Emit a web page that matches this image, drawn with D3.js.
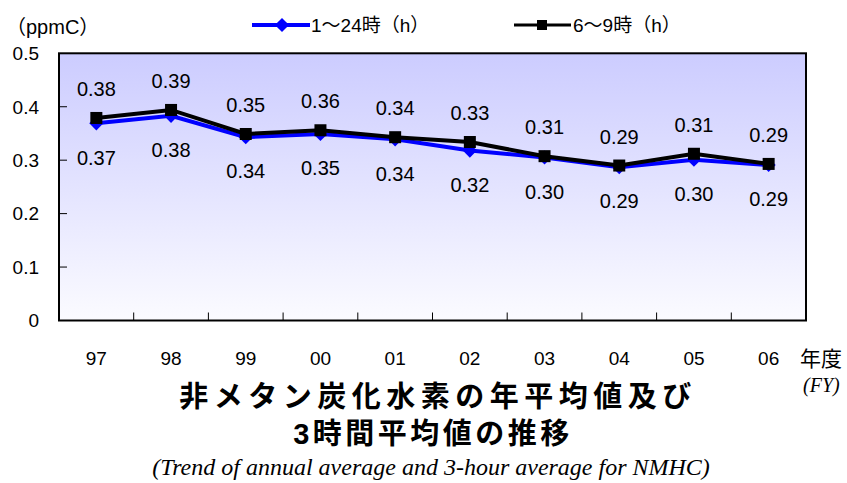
<!DOCTYPE html>
<html><head><meta charset="utf-8">
<script src="https://cdn.jsdelivr.net/npm/d3@7"></script>
<style>body{margin:0;background:#fff}svg{display:block}</style>
</head><body>
<svg id="c" width="847" height="483"></svg>
<script>
const categories = ["97","98","99","00","01","02","03","04","05","06"];
const seriesAll = [0.369,0.383,0.343,0.349,0.339,0.318,0.305,0.287,0.301,0.291];
const seriesMorning = [0.379,0.394,0.349,0.356,0.343,0.334,0.3075,0.290,0.312,0.293];
const yTicks = [0,0.1,0.2,0.3,0.4,0.5];
const seriesNames = ["1〜24時（h）","6〜9時（h）"];
const titleLines = ["非メタン炭化水素の年平均値及び","3時間平均値の推移"];

const svg = d3.select("#c");
const font = "'Liberation Sans','Noto Sans CJK JP',sans-serif";
const jp = "'Noto Sans CJK JP','Liberation Sans',sans-serif";
const L=59, R=806, T=53.3, B=320.5;
const x = d3.scaleBand().domain(categories).range([L,R]);
const y = d3.scaleLinear().domain([0,0.5]).range([B,T]);

const defs = svg.append("defs");
const g = defs.append("linearGradient").attr("id","bg").attr("x1",0).attr("y1",0).attr("x2",0).attr("y2",1);
g.append("stop").attr("offset","0%").attr("stop-color","#ccccff");
g.append("stop").attr("offset","100%").attr("stop-color","#fbfbff");
svg.append("rect").attr("x",L).attr("y",T).attr("width",R-L).attr("height",B-T).attr("fill","url(#bg)");

svg.append("g").selectAll("line").data(yTicks.filter(d=>d>0&&d<0.5)).join("line")
  .attr("x1",L).attr("x2",L+8).attr("y1",d=>y(d)).attr("y2",d=>y(d)).attr("stroke","#000").attr("stroke-width",1);
svg.append("g").selectAll("text").data(yTicks).join("text")
  .attr("x",39).attr("y",d=>y(d)).attr("dy","0.36em").attr("text-anchor","end")
  .attr("font-family",font).attr("font-size",19).text(d=>d===0?"0":d.toFixed(1));
svg.append("g").selectAll("line").data(categories.slice(1)).join("line")
  .attr("x1",d=>x(d)).attr("x2",d=>x(d)).attr("y1",B).attr("y2",B-8).attr("stroke","#000").attr("stroke-width",1);
svg.append("g").selectAll("text").data(categories).join("text")
  .attr("x",d=>x(d)+x.bandwidth()/2).attr("y",358).attr("dy","0.36em").attr("text-anchor","middle")
  .attr("font-family",font).attr("font-size",19).text(d=>d);
svg.append("rect").attr("x",L).attr("y",T).attr("width",R-L).attr("height",B-T).attr("fill","none").attr("stroke","#000").attr("stroke-width",2);

const cx = d=>x(d)+x.bandwidth()/2;
const line = d3.line().x(d=>cx(d[0])).y(d=>y(d[1]));
const dataAll = categories.map((c,i)=>[c,seriesAll[i]]);
const dataM = categories.map((c,i)=>[c,seriesMorning[i]]);
svg.append("path").attr("d",line(dataAll)).attr("fill","none").attr("stroke","#0000ff").attr("stroke-width",4);
svg.append("g").selectAll("path").data(dataAll).join("path")
  .attr("d",d3.symbol(d3.symbolSquare,100)).attr("transform",d=>`translate(${cx(d[0])},${y(d[1])}) rotate(45)`).attr("fill","#0000ff");
svg.append("path").attr("d",line(dataM)).attr("fill","none").attr("stroke","#000").attr("stroke-width",4);
svg.append("g").selectAll("rect").data(dataM).join("rect")
  .attr("x",d=>cx(d[0])-6).attr("y",d=>y(d[1])-6).attr("width",12).attr("height",12).attr("fill","#000");

svg.append("g").selectAll("text").data(dataM).join("text")
  .attr("x",d=>cx(d[0])).attr("y",d=>y(d[1])-29).attr("dy","0.36em").attr("text-anchor","middle")
  .attr("font-family",font).attr("font-size",20).text(d=>d[1].toFixed(2));
svg.append("g").selectAll("text").data(dataAll).join("text")
  .attr("x",d=>cx(d[0])).attr("y",d=>y(d[1])+34).attr("dy","0.36em").attr("text-anchor","middle")
  .attr("font-family",font).attr("font-size",20).text(d=>d[1].toFixed(2));

svg.append("text").attr("x",6).attr("y",27).attr("dy","0.36em").attr("font-family",font).attr("font-size",20).text("（ppmC）");
const lg = svg.append("g");
lg.append("line").attr("x1",252).attr("x2",310).attr("y1",25).attr("y2",25).attr("stroke","#0000ff").attr("stroke-width",4);
lg.append("path").attr("d",d3.symbol(d3.symbolSquare,100)).attr("transform","translate(282,25) rotate(45)").attr("fill","#0000ff");
lg.append("text").attr("x",311).attr("y",25).attr("dy","0.36em").attr("font-family",font).attr("font-size",19).text(seriesNames[0]);
lg.append("line").attr("x1",514).attr("x2",571).attr("y1",25).attr("y2",25).attr("stroke","#000").attr("stroke-width",3);
lg.append("rect").attr("x",537).attr("y",20).attr("width",10).attr("height",10).attr("fill","#000");
lg.append("text").attr("x",573).attr("y",25).attr("dy","0.36em").attr("font-family",font).attr("font-size",19).text(seriesNames[1]);

svg.append("text").attr("x",800).attr("y",358).attr("dy","0.36em").attr("font-family",jp).attr("font-size",21).text("年度");
svg.append("text").attr("x",803).attr("y",385).attr("dy","0.36em").attr("font-family","'Liberation Serif',serif").attr("font-style","italic").attr("font-size",20).text("(FY)");

const title = svg.append("text").attr("text-anchor","middle").attr("font-family",font).attr("font-weight","bold").attr("font-size",29);
title.append("tspan").attr("x",438).attr("y",407).attr("letter-spacing",5.5).text(titleLines[0]);
title.append("tspan").attr("x",433).attr("y",444).attr("letter-spacing",3.5).text(titleLines[1]);
svg.append("text").attr("x",431).attr("y",466).attr("dy","0.36em").attr("text-anchor","middle").attr("font-family","'Liberation Serif',serif").attr("font-style","italic").attr("font-size",24).text("(Trend of annual average and 3-hour average for NMHC)");
</script>
</body></html>
